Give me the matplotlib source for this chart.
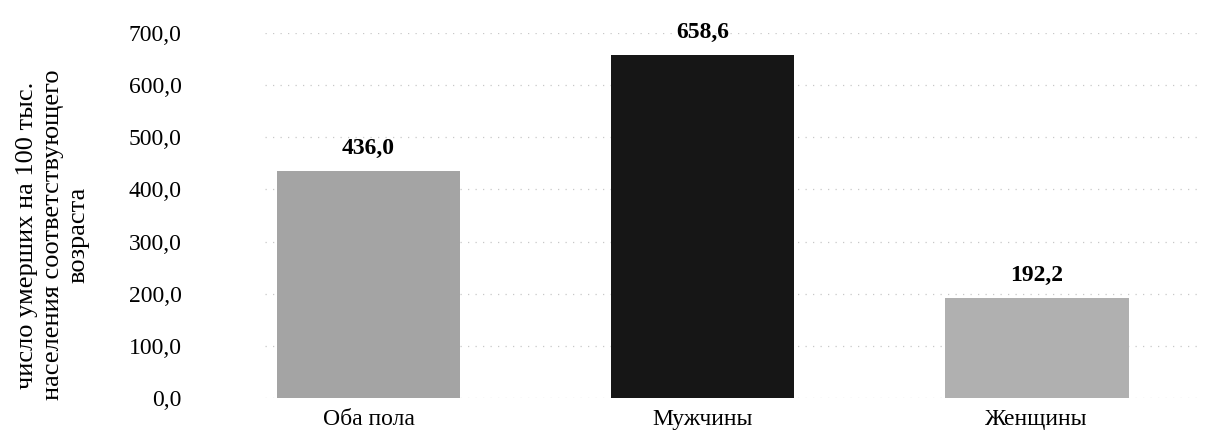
import matplotlib
matplotlib.use('Agg')
import matplotlib.pyplot as plt

categories = ['Оба пола', 'Мужчины', 'Женщины']
values = [436.0, 658.6, 192.2]
y_ticks = [0, 100, 200, 300, 400, 500, 600, 700]
y_label = 'число умерших на 100 тыс.\nнаселения соответствующего\nвозраста'

plt.rcParams['font.family'] = ['Liberation Serif', 'DejaVu Serif']

fig = plt.figure(figsize=(12.19, 4.41), dpi=100)
ax = fig.add_axes([265/1219, 43/441, 932/1219, 365/441])

colors = ['#a4a4a4', '#161616', '#b0b0b0']
x = list(range(len(categories)))
bars = ax.bar(x, values, width=0.55, color=colors, zorder=2)

for b, v in zip(bars, values):
	ax.annotate(f'{v:.1f}'.replace('.', ','), (b.get_x() + b.get_width()/2, v),
		xytext=(0, 8.5), textcoords='offset points', ha='center', va='bottom',
		fontsize=17, fontweight='bold')

ax.set_xlim(-0.31, 2.48)
ax.set_ylim(0, 700)
ax.set_xticks(x)
ax.set_xticklabels(categories, fontsize=17)
ax.set_yticks(y_ticks)
ax.set_yticklabels([f'{t:.1f}'.replace('.', ',') for t in y_ticks], fontsize=17)
ax.tick_params(axis='y', length=0, pad=60)
ax.tick_params(axis='x', length=0, pad=8)
ax.grid(axis='y', color='#c8c8c8', linestyle=(0, (1, 5)), linewidth=0.9, zorder=0)
for s in ax.spines.values():
	s.set_visible(False)

fig.text(53/1219, 1 - 235/441, y_label, rotation=90, ha='center', va='center',
	fontsize=19, linespacing=1.22)

fig.savefig('out.png', dpi=100)
